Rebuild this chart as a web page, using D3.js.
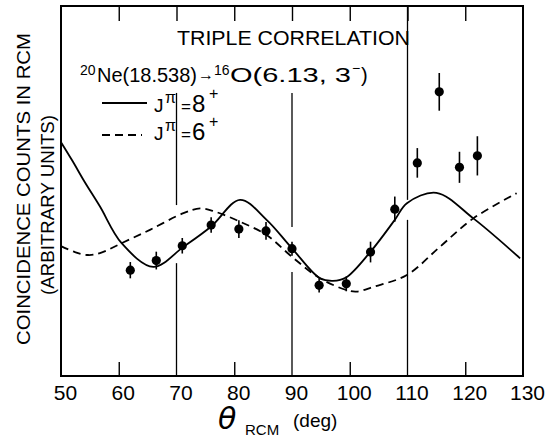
<!DOCTYPE html>
<html>
<head>
<meta charset="utf-8">
<script src="https://cdn.jsdelivr.net/npm/d3@7"></script>
<style>
  body { margin: 0; background: #fff; }
  svg { display: block; font-family: "Liberation Sans", Arial, sans-serif; }
  .frame { fill: none; stroke: #000; stroke-width: 2; }
  .curve { fill: none; stroke: #000; stroke-width: 1.8; }
  .grid { stroke: #000; stroke-width: 1.3; }
  .axis path { display: none; }
  .axis line { stroke: #000; stroke-width: 1.4; }
  .axis text { font-size: 21px; fill: #000; font-family: "Liberation Sans", Arial, sans-serif; }
</style>
</head>
<body>
<script>
const width = 558;
const height = 438;

// measured points (theta in deg, counts in arbitrary units)
const theta = [62, 66.5, 71, 76, 80.8, 85.5, 90, 94.7, 99.4, 103.6, 107.8, 111.7, 115.5, 119, 122.1];
const counts = [28.6, 31.2, 35.2, 40.8, 39.7, 39.2, 34.4, 24.5, 24.9, 33.5, 45.1, 57.6, 76.8, 56.4, 59.5];
const errors = [2.2, 2.4, 2.1, 2.1, 2.4, 2.4, 1.9, 1.9, 2.0, 2.8, 3.4, 4.0, 5.1, 4.2, 5.3];

// J = 8+ calculation (solid)
const solidTheta = [50, 52, 54, 56.75, 60.5, 66, 71.2, 76, 81, 85.6, 90, 94.85, 97.1, 99.35, 103.6, 107.8, 109.9, 115, 121.4, 129.5];
const solidCounts = [63.2, 58.1, 52.7, 45.8, 35.9, 29.5, 34.9, 40.4, 47.6, 42.2, 34.5, 26.4, 25.7, 26.6, 33.6, 42.2, 46.7, 49.5, 42.6, 31.8];

// J = 6+ calculation (dashed)
const dashTheta = [50, 52.4, 54.7, 56.75, 60.5, 65.4, 71.2, 74.1, 76.7, 81, 85.6, 90, 94.85, 99.5, 101.2, 104.1, 109.9, 115.6, 121.4, 128.9];
const dashCounts = [35.1, 33.5, 32.7, 33.2, 35.9, 39.5, 44.0, 45.3, 44.4, 41.7, 38.1, 32.2, 26.4, 23.2, 22.8, 24.1, 27.3, 34.9, 42.6, 49.4];

const xLabels = [50, 60, 70, 80, 90, 100, 110, 120, 130];
const shortTicks = [60, 80, 100, 120];
const topTicks = [60, 70, 80, 90, 100, 110, 120];
// hand drafted vertical lines, broken where they meet the curves
const gridSegs = [
    {at: 70, from: 0, to: 30.5}, {at: 70, from: 46.2, to: 76.5},
    {at: 90, from: 0, to: 28.1}, {at: 90, from: 40.3, to: 76.5},
    {at: 110, from: 0, to: 42.2}, {at: 110, from: 47.6, to: 100}
];

const x = d3.scaleLinear().domain([50, 130]).range([61, 523]);
const y = d3.scaleLinear().domain([0, 100]).range([376, 6]);

const svg = d3.select("body").append("svg")
    .attr("width", width)
    .attr("height", height);

svg.selectAll(".grid")
    .data(gridSegs)
    .join("line")
    .attr("class", "grid")
    .attr("x1", d => x(d.at)).attr("x2", d => x(d.at))
    .attr("y1", d => y(d.from)).attr("y2", d => y(d.to));

// axes
svg.append("g").attr("class", "axis")
    .attr("transform", `translate(0,${y(0)})`)
    .call(d3.axisBottom(x).tickValues(shortTicks).tickSize(-14).tickFormat(""));
svg.append("g").attr("class", "axis")
    .attr("transform", `translate(0,${y(100)})`)
    .call(d3.axisTop(x).tickValues(topTicks).tickSize(-15).tickFormat(""));
svg.append("g").attr("class", "axis")
    .attr("transform", `translate(0,${y(0)})`)
    .call(d3.axisBottom(x).tickValues(xLabels).tickSize(0).tickPadding(9))
    .selectAll("text").attr("dx", 4);

svg.append("rect").attr("class", "frame")
    .attr("x", x(50)).attr("y", y(100))
    .attr("width", x(130) - x(50)).attr("height", y(0) - y(100));

// curves
const line = d3.line().x(d => x(d[0])).y(d => y(d[1])).curve(d3.curveCatmullRom);
svg.append("path").attr("class", "curve")
    .attr("d", line(d3.zip(solidTheta, solidCounts)));
svg.append("path").attr("class", "curve")
    .attr("stroke-dasharray", "8,5")
    .attr("d", line(d3.zip(dashTheta, dashCounts)));

// data with error bars
const pts = theta.map((t, i) => ({t: t, c: counts[i], e: errors[i]}));
svg.selectAll(".err")
    .data(pts)
    .join("line")
    .attr("class", "err")
    .attr("stroke", "#000").attr("stroke-width", 1.6)
    .attr("x1", d => x(d.t)).attr("x2", d => x(d.t))
    .attr("y1", d => y(d.c - d.e)).attr("y2", d => y(d.c + d.e));
svg.selectAll(".pt")
    .data(pts)
    .join("circle")
    .attr("class", "pt")
    .attr("cx", d => x(d.t)).attr("cy", d => y(d.c))
    .attr("r", 4.6);

// texts
svg.append("text").attr("x", 177).attr("y", 45)
    .attr("font-size", 20).attr("textLength", 233).attr("lengthAdjust", "spacingAndGlyphs")
    .text("TRIPLE CORRELATION");

const rx = svg.append("g").attr("font-size", 20);
rx.append("text").attr("x", 80).attr("y", 75).attr("font-size", 14).text("20");
rx.append("text").attr("x", 97).attr("y", 82).attr("textLength", 100).attr("lengthAdjust", "spacingAndGlyphs").text("Ne(18.538)");
rx.append("text").attr("x", 198).attr("y", 80).attr("font-size", 16).text("→");
rx.append("text").attr("x", 214).attr("y", 75).attr("font-size", 14).text("16");
rx.append("text").attr("x", 230).attr("y", 82).attr("font-size", 21)
    .attr("textLength", 121).attr("lengthAdjust", "spacingAndGlyphs").text("O(6.13, 3");
rx.append("text").attr("x", 352).attr("y", 73).attr("font-size", 14).text("−");
rx.append("text").attr("x", 361).attr("y", 82).text(")");

// legend
svg.append("line").attr("x1", 102).attr("x2", 147).attr("y1", 103).attr("y2", 103)
    .attr("stroke", "#000").attr("stroke-width", 1.8);
svg.append("line").attr("x1", 102).attr("x2", 142).attr("y1", 135).attr("y2", 135)
    .attr("stroke", "#000").attr("stroke-width", 1.8).attr("stroke-dasharray", "8,5");
const legendRows = [{yb: 112, n: "8"}, {yb: 140, n: "6"}];
legendRows.forEach(r => {
    svg.append("text").attr("x", 154).attr("y", r.yb).attr("font-size", 19).text("J");
    svg.append("text").attr("x", 165).attr("y", r.yb - 9).attr("font-size", 16).text("π");
    svg.append("text").attr("x", 181).attr("y", r.yb).attr("font-size", 17).text("=");
    svg.append("text").attr("x", 192).attr("y", r.yb).attr("font-size", 24).text(r.n);
    svg.append("text").attr("x", 209).attr("y", r.yb - 13).attr("font-size", 16).text("+");
});

// y label
svg.append("text")
    .attr("transform", "translate(30,189) rotate(-90)")
    .attr("text-anchor", "middle").attr("font-size", 19)
    .attr("textLength", 312).attr("lengthAdjust", "spacingAndGlyphs")
    .text("COINCIDENCE  COUNTS  IN  RCM");
svg.append("text")
    .attr("transform", "translate(54,205) rotate(-90)")
    .attr("text-anchor", "middle").attr("font-size", 19)
    .attr("textLength", 180).attr("lengthAdjust", "spacingAndGlyphs")
    .text("(ARBITRARY UNITS)");

// x label
svg.append("text").attr("x", 218).attr("y", 429)
    .attr("font-size", 30).attr("font-style", "italic").attr("font-family", "DejaVu Sans")
    .text("θ");
svg.append("text").attr("x", 245).attr("y", 435).attr("font-size", 15).text("RCM");
svg.append("text").attr("x", 293).attr("y", 427).attr("font-size", 19).text("(deg)");
</script>
</body>
</html>
